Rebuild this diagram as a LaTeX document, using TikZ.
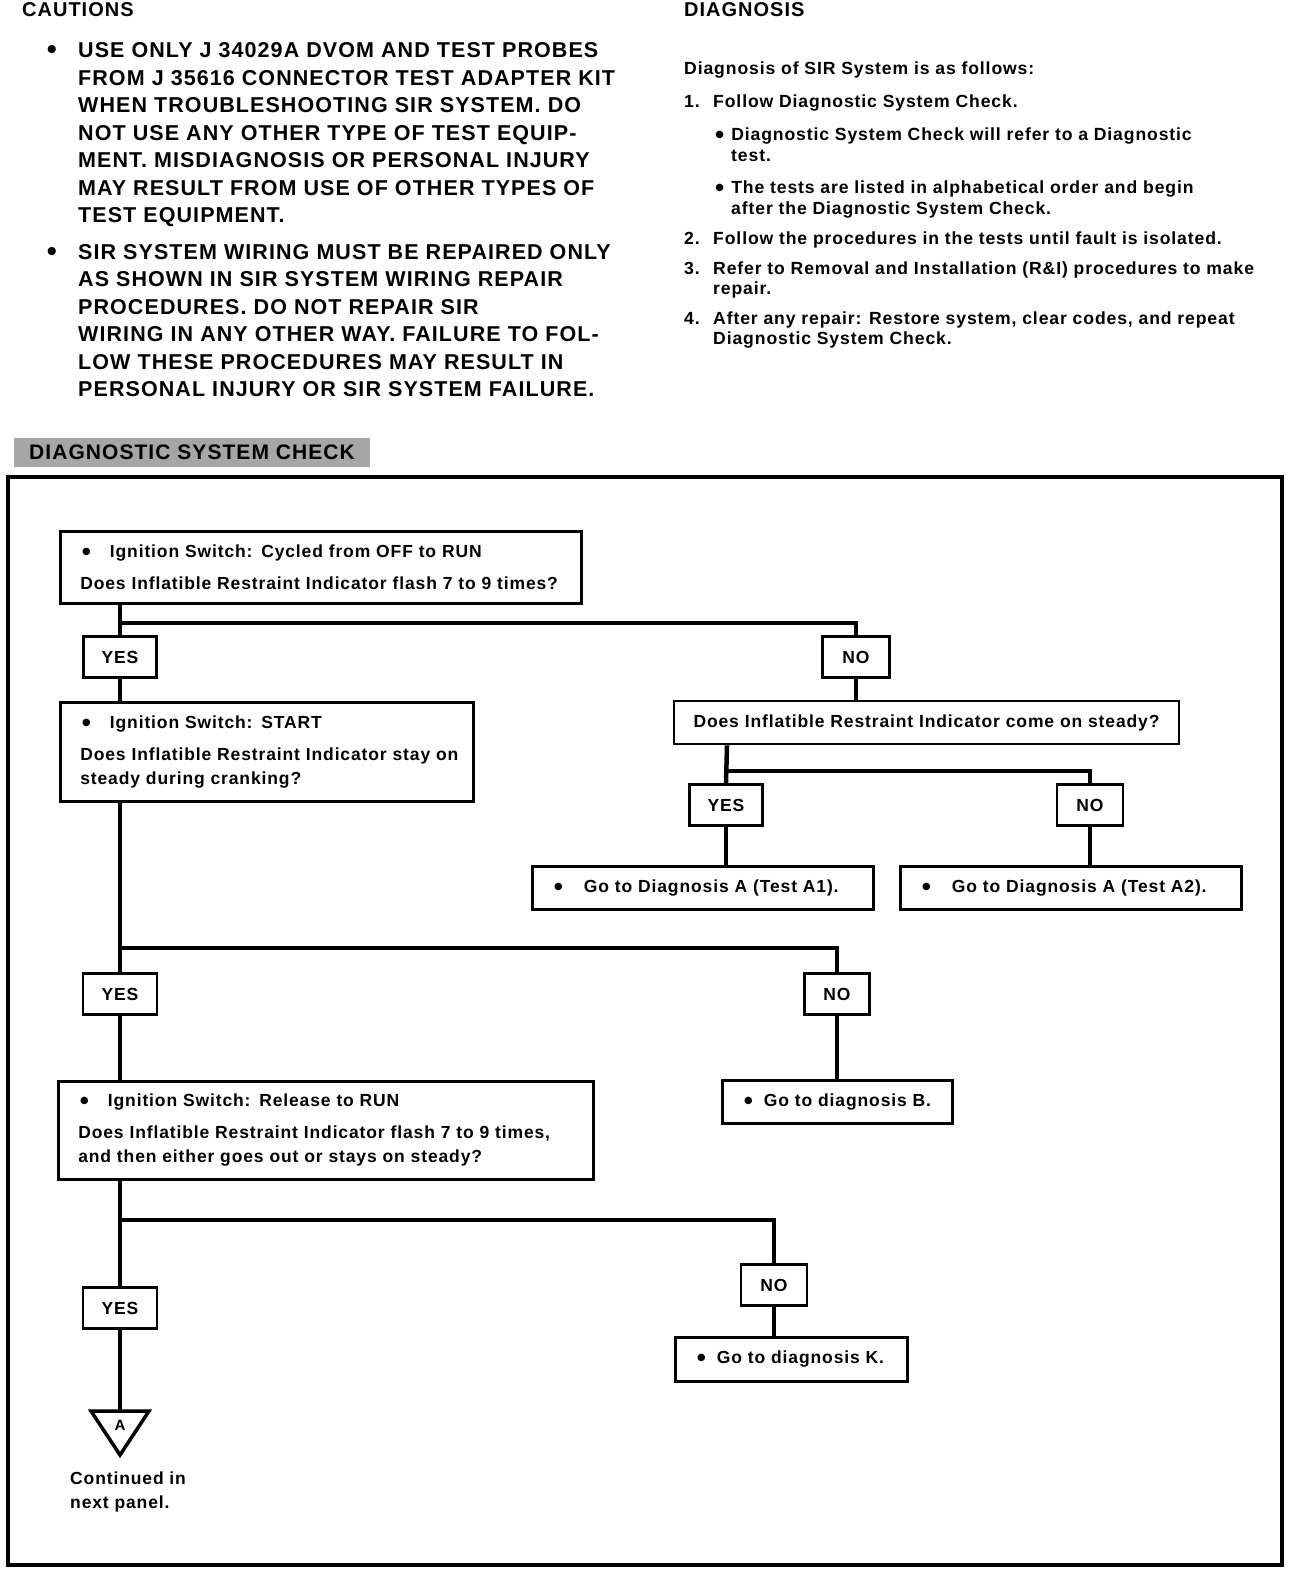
\documentclass[tikz,border=0pt]{standalone}
\usepackage{fontspec}
\setmainfont{Liberation Sans}[LetterSpace=5]

\newcommand\flowfont{\fontsize{17.5pt}{24pt}\selectfont\bfseries}
\newcommand\cautfont{\fontsize{21.5pt}{27.5pt}\selectfont\bfseries}
\newcommand\diagfont{\fontsize{17.6pt}{20.5pt}\selectfont\bfseries}
\newcommand\headfont{\fontsize{20pt}{24pt}\selectfont\bfseries}
\newcommand\bigdot{\raisebox{-3pt}{\fontsize{26pt}{20pt}\selectfont\textbullet}}
\newcommand\dotgap[1]{\hspace*{1.5pt}\bigdot\hspace*{#1}}

\begin{document}
\begin{tikzpicture}[x=1pt, y=-1pt,
    box/.style={draw, line width=2.6pt, anchor=north west, align=left,
      inner xsep=20pt, inner ysep=0pt, font=\flowfont},
    ans/.style={draw, line width=2.6pt, minimum height=41pt, inner sep=0pt, font=\flowfont},
    conn/.style={line width=4.5pt, line join=miter},
    txt/.style={anchor=base west, inner sep=0pt, align=left},
    dot/.style={inner sep=0pt, font=\fontsize{30pt}{30pt}\selectfont}]
    \useasboundingbox (0,0) rectangle (1312,1570);

    % cautions
    \node[txt, font=\headfont] (caut) at (22,17) {CAUTIONS};
    \node[dot] (cdot1) at (52,53) {\textbullet};
    \node[txt, font=\cautfont] (caut1) at (78,223) {USE ONLY J 34029A DVOM AND TEST PROBES\\FROM J 35616 CONNECTOR TEST ADAPTER KIT\\WHEN TROUBLESHOOTING SIR SYSTEM. DO\\NOT USE ANY OTHER TYPE OF TEST EQUIP-\\MENT. MISDIAGNOSIS OR PERSONAL INJURY\\MAY RESULT FROM USE OF OTHER TYPES OF\\TEST EQUIPMENT.};
    \node[dot] (cdot2) at (52,254) {\textbullet};
    \node[txt, font=\cautfont] (caut2) at (78,396.5) {SIR SYSTEM WIRING MUST BE REPAIRED ONLY\\AS SHOWN IN SIR SYSTEM WIRING REPAIR\\PROCEDURES. DO NOT REPAIR SIR\\WIRING IN ANY OTHER WAY. FAILURE TO FOL-\\LOW THESE PROCEDURES MAY RESULT IN\\PERSONAL INJURY OR SIR SYSTEM FAILURE.};

    % diagnosis
    \node[txt, font=\headfont] (diag) at (684,17) {DIAGNOSIS};
    \node[txt, font=\diagfont] (intro) at (684,75) {Diagnosis of SIR System is as follows:};
    \node[txt, font=\diagfont] (num1) at (684,108) {1.};
    \node[txt, font=\diagfont] (item1) at (713,108) {Follow Diagnostic System Check.};
    \node[txt, font=\diagfont] (sub1) at (713,161.5) {\hspace*{2pt}\bigdot\hspace*{7pt}Diagnostic System Check will refer to a Diagnostic\\\hspace*{18pt}test.};
    \node[txt, font=\diagfont] (sub2) at (713,214.5) {\hspace*{2pt}\bigdot\hspace*{7pt}The tests are listed in alphabetical order and begin\\\hspace*{18pt}after the Diagnostic System Check.};
    \node[txt, font=\diagfont] (num2) at (684,244) {2.};
    \node[txt, font=\diagfont] (item2) at (713,244) {Follow the procedures in the tests until fault is isolated.};
    \node[txt, font=\diagfont] (num3) at (684,274) {3.};
    \node[txt, font=\diagfont] (item3) at (713,294.5) {Refer to Removal and Installation (R\&I) procedures to make\\repair.};
    \node[txt, font=\diagfont] (num4) at (684,324) {4.};
    \node[txt, font=\diagfont] (item4) at (713,344.5) {After any repair: Restore system, clear codes, and repeat\\Diagnostic System Check.};

    % diagnostic system check
    \node[fill=black!35, minimum width=356pt, minimum height=29pt, inner sep=0pt,
      font=\fontsize{21pt}{24pt}\selectfont\bfseries] (title) at (192,452) {DIAGNOSTIC SYSTEM CHECK};
    \draw[line width=3.5pt] (8,477) rectangle (1282,1565);

    \node[box, text width=481pt, minimum height=72pt] (b1) at (59,530)
      {\dotgap{19pt}Ignition Switch: Cycled from OFF to RUN\\[8pt]\mbox{Does Inflatible Restraint Indicator flash 7 to 9 times?}};
    \node[ans, minimum width=73pt] (yes1) at (120,657) {YES};
    \node[ans, minimum width=67pt] (no1) at (856,657) {NO};
    \node[box, text width=373pt, minimum height=99pt] (b2) at (59,701)
      {\dotgap{19pt}Ignition Switch: START\\[8pt]\mbox{Does Inflatible Restraint Indicator stay on}\\steady during cranking?};
    \node[box, text width=505pt, minimum height=43pt, anchor=center, align=center, inner xsep=0pt] (q2) at (926.5,722.5)
      {Does Inflatible Restraint Indicator come on steady?};
    \node[ans, minimum width=73pt] (yes2) at (726,805) {YES};
    \node[ans, minimum width=66pt] (no2) at (1090,805) {NO};
    \node[box, text width=301pt, minimum height=43pt] (a1) at (531,865)
      {\mbox{\dotgap{21pt}Go to Diagnosis A (Test A1).}};
    \node[box, text width=301pt, minimum height=43pt] (a2) at (899,865)
      {\mbox{\dotgap{21pt}Go to Diagnosis A (Test A2).}};
    \node[ans, minimum width=74pt] (yes3) at (120,994) {YES};
    \node[ans, minimum width=65pt] (no3) at (837,994) {NO};
    \node[box, text width=495pt, minimum height=98pt] (b3) at (57,1080)
      {\dotgap{19pt}Ignition Switch: Release to RUN\\[8pt]\mbox{Does Inflatible Restraint Indicator flash 7 to 9 times,}\\and then either goes out or stays on steady?};
    \node[box, text width=190pt, minimum height=43pt] (gob) at (721,1079)
      {\mbox{\dotgap{11pt}Go to diagnosis B.}};
    \node[ans, minimum width=74pt] (yes4) at (120,1308) {YES};
    \node[ans, minimum width=66pt] (no4) at (774,1285) {NO};
    \node[box, text width=192pt, minimum height=44pt] (gok) at (674,1336)
      {\mbox{\dotgap{11pt}Go to diagnosis K.}};

    \coordinate (j1) at (120,623);
    \coordinate (j2) at (727,771);
    \coordinate (j3) at (120,948);
    \coordinate (j4) at (120,1220);
    \coordinate (tri) at (120,1411);

    \draw[conn] (yes1.north |- b1.south) -- (yes1.north);
    \draw[conn] (j1) -| (no1.north);
    \draw[conn] (yes1.south) -- (yes1.south |- b2.north);
    \draw[conn] (no1.south) -- (no1.south |- q2.north);
    \draw[conn] (j2 |- q2.south) -- (yes2.north);
    \draw[conn] (j2) -| (no2.north);
    \draw[conn] (yes2.south) -- (yes2.south |- a1.north);
    \draw[conn] (no2.south) -- (no2.south |- a2.north);
    \draw[conn] (yes3.north |- b2.south) -- (yes3.north);
    \draw[conn] (j3) -| (no3.north);
    \draw[conn] (yes3.south) -- (yes3.south |- b3.north);
    \draw[conn] (no3.south) -- (no3.south |- gob.north);
    \draw[conn] (yes4.north |- b3.south) -- (yes4.north);
    \draw[conn] (j4) -| (no4.north);
    \draw[conn] (no4.south) -- (no4.south |- gok.north);
    \draw[conn] (yes4.south) -- (tri);

    \draw[line width=3.5pt, line join=miter] (91,1411) -- (149,1411) -- (120,1455) -- cycle;
    \node[inner sep=0pt, font=\fontsize{15pt}{18pt}\selectfont\bfseries] (triA) at (120,1425) {A};
    \node[txt, font=\flowfont] (cont) at (70,1508) {Continued in\\next panel.};
\end{tikzpicture}
\end{document}
